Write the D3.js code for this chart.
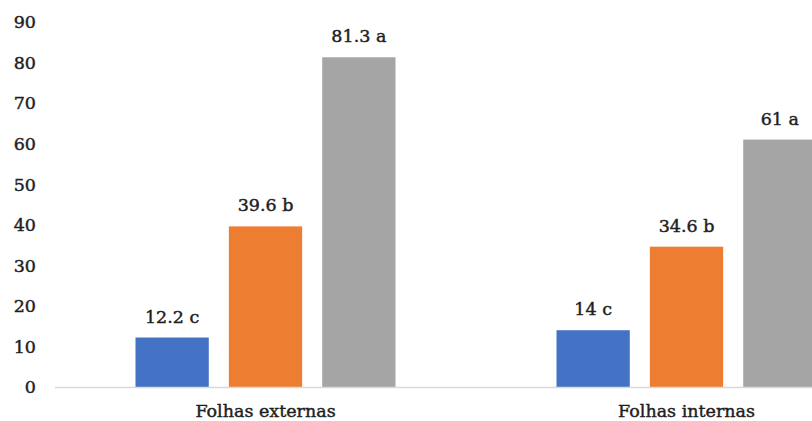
<!DOCTYPE html>
<html>
<head>
<meta charset="utf-8">
<script src="https://cdn.jsdelivr.net/npm/d3@7"></script>
<style>
  html, body { margin: 0; padding: 0; background: #fff; }
  svg { display: block; }
  svg text { font-family: 'DejaVu Serif', serif; }
</style>
</head>
<body>
<div id="chart"></div>
<script>
const categories = ['Folhas externas', 'Folhas internas'];
const seriesNames = ['s1', 's2', 's3'];
const valuesS1 = [12.2, 14];
const valuesS2 = [39.6, 34.6];
const valuesS3 = [81.3, 61];
const lettersS1 = ['c', 'c'];
const lettersS2 = ['b', 'b'];
const lettersS3 = ['a', 'a'];
const yTicks = [0, 10, 20, 30, 40, 50, 60, 70, 80, 90];
const colors = ['#4472C4', '#ED7D31', '#A5A5A5'];

const width = 812;
const height = 421;

// the original plot runs past the right edge of the picture
const plotLeft = 55;
const plotRight = 897;

const svg = d3.select('#chart')
  .append('svg')
  .attr('width', width)
  .attr('height', height);

const x0 = d3.scaleBand()
  .domain(categories)
  .range([plotLeft, plotRight]);

const x1 = d3.scaleBand()
  .domain(seriesNames)
  .range([80.5, x0.bandwidth() - 80.5])
  .paddingInner(0.215);

const y = d3.scaleLinear()
  .domain([0, 90])
  .range([387, 22]);

// rows for bars
const allValues = [valuesS1, valuesS2, valuesS3];
const allLetters = [lettersS1, lettersS2, lettersS3];
const rows = [];
categories.forEach((c, i) => {
  seriesNames.forEach((s, j) => {
    rows.push({ cat: c, series: s, value: allValues[j][i], letter: allLetters[j][i], color: colors[j] });
  });
});

const textColor = '#1f1f1f';
const fontSize = 17.5;

// slightly heavier text, like the scanned original
const styleText = sel => sel
  .attr('font-size', fontSize)
  .attr('fill', textColor)
  .attr('stroke', textColor)
  .attr('stroke-width', 0.45);

// y tick labels
svg.append('g')
  .selectAll('text')
  .data(yTicks)
  .enter()
  .append('text')
  .attr('x', 36)
  .attr('y', d => y(d))
  .attr('dy', '0.36em')
  .attr('text-anchor', 'end')
  .call(styleText)
  .text(d => d);

// bars
svg.append('g')
  .selectAll('rect')
  .data(rows)
  .enter()
  .append('rect')
  .attr('x', d => x0(d.cat) + x1(d.series))
  .attr('y', d => y(d.value))
  .attr('width', x1.bandwidth())
  .attr('height', d => y(0) - y(d.value))
  .attr('fill', d => d.color);

// baseline
svg.append('line')
  .attr('x1', plotLeft)
  .attr('x2', plotRight)
  .attr('y1', y(0) + 0.5)
  .attr('y2', y(0) + 0.5)
  .attr('stroke', '#d9d9d9')
  .attr('stroke-width', 1.5);

// value labels
svg.append('g')
  .selectAll('text')
  .data(rows)
  .enter()
  .append('text')
  .attr('x', d => x0(d.cat) + x1(d.series) + x1.bandwidth() / 2)
  .attr('y', d => y(d.value) - 15)
  .attr('text-anchor', 'middle')
  .call(styleText)
  .text(d => `${d.value} ${d.letter}`);

// category labels
svg.append('g')
  .selectAll('text')
  .data(categories)
  .enter()
  .append('text')
  .attr('x', d => x0(d) + x0.bandwidth() / 2)
  .attr('y', 417)
  .attr('text-anchor', 'middle')
  .call(styleText)
  .text(d => d);
</script>
</body>
</html>
